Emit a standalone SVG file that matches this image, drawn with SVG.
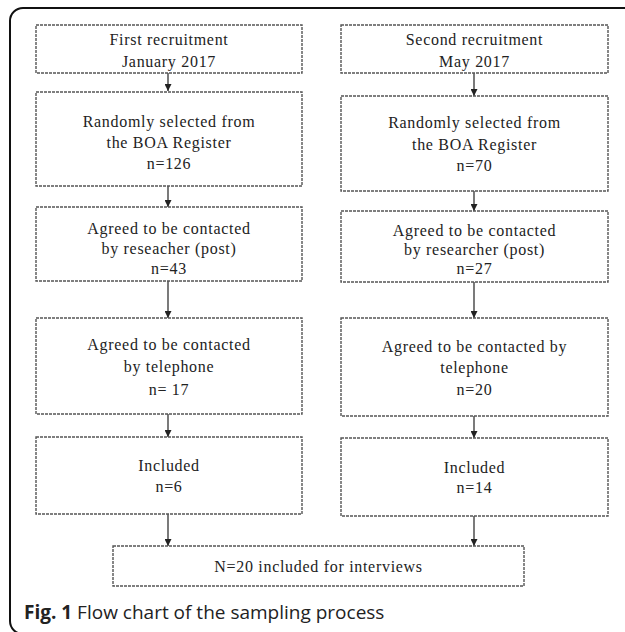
<svg xmlns="http://www.w3.org/2000/svg" width="625" height="632" viewBox="0 0 625 632">
<defs>
<marker id="ah" viewBox="0 0 8 8" refX="8" refY="4" markerWidth="7" markerHeight="7" markerUnits="userSpaceOnUse" orient="auto">
<path d="M0,0 L8,4 L0,8 z" fill="#222"/>
</marker>
<style>
.box{fill:#fff;stroke:#555;stroke-width:1.4;stroke-dasharray:3 1}
.t{font-family:"Liberation Serif","Times New Roman",serif;font-size:16px;fill:#222;text-anchor:middle;letter-spacing:0.7px}
.c{stroke:#333;stroke-width:1.3;fill:none;marker-end:url(#ah)}
.cap{font-family:"Open Sans","Noto Sans",sans-serif;font-size:19px;fill:#222}
</style>
</defs>
<rect x="0" y="0" width="625" height="632" fill="#fff"/>
<rect x="10" y="8" width="660" height="626" rx="13" fill="none" stroke="#111" stroke-width="2"/>

<g id="connectors">
<line class="c" x1="168" y1="73" x2="168" y2="91"/>
<line class="c" x1="168" y1="186" x2="168" y2="207"/>
<line class="c" x1="168" y1="281" x2="168" y2="318"/>
<line class="c" x1="168" y1="414" x2="168" y2="437"/>
<line class="c" x1="168" y1="514" x2="168" y2="546"/>
<line class="c" x1="474" y1="73" x2="474" y2="96"/>
<line class="c" x1="474" y1="191" x2="474" y2="211"/>
<line class="c" x1="474" y1="282" x2="474" y2="318"/>
<line class="c" x1="474" y1="416" x2="474" y2="438"/>
<line class="c" x1="474" y1="516" x2="474" y2="546"/>
</g>

<g id="l1"><rect class="box" x="36" y="25" width="266" height="48"/>
<text class="t" x="169" y="45">First recruitment</text>
<text class="t" x="169" y="67">January 2017</text></g>
<g id="l2"><rect class="box" x="36" y="92" width="266" height="94"/>
<text class="t" x="169" y="127">Randomly selected from</text>
<text class="t" x="169" y="148">the BOA Register</text>
<text class="t" x="169" y="169">n=126</text></g>
<g id="l3"><rect class="box" x="36" y="207" width="266" height="74"/>
<text class="t" x="169" y="234">Agreed to be contacted</text>
<text class="t" x="169" y="254">by reseacher (post)</text>
<text class="t" x="169" y="274">n=43</text></g>
<g id="l4"><rect class="box" x="36" y="318" width="266" height="96"/>
<text class="t" x="169" y="350">Agreed to be contacted</text>
<text class="t" x="169" y="372">by telephone</text>
<text class="t" x="169" y="395">n= 17</text></g>
<g id="l5"><rect class="box" x="36" y="437" width="266" height="77"/>
<text class="t" x="169" y="471">Included</text>
<text class="t" x="169" y="492">n=6</text></g>

<g id="r1"><rect class="box" x="341" y="25" width="267" height="48"/>
<text class="t" x="474.5" y="45">Second recruitment</text>
<text class="t" x="474.5" y="67">May 2017</text></g>
<g id="r2"><rect class="box" x="341" y="96" width="267" height="95"/>
<text class="t" x="474.5" y="128">Randomly selected from</text>
<text class="t" x="474.5" y="150">the BOA Register</text>
<text class="t" x="474.5" y="171">n=70</text></g>
<g id="r3"><rect class="box" x="341" y="211" width="267" height="71"/>
<text class="t" x="474.5" y="236">Agreed to be contacted</text>
<text class="t" x="474.5" y="255">by researcher (post)</text>
<text class="t" x="474.5" y="274">n=27</text></g>
<g id="r4"><rect class="box" x="341" y="318" width="267" height="98"/>
<text class="t" x="474.5" y="352">Agreed to be contacted by</text>
<text class="t" x="474.5" y="373">telephone</text>
<text class="t" x="474.5" y="395">n=20</text></g>
<g id="r5"><rect class="box" x="341" y="438" width="267" height="78"/>
<text class="t" x="474.5" y="473">Included</text>
<text class="t" x="474.5" y="493">n=14</text></g>

<g id="total"><rect class="box" x="113" y="546" width="411" height="40"/>
<text class="t" x="318.5" y="572">N=20 included for interviews</text></g>

<text class="cap" x="24" y="619"><tspan font-weight="bold">Fig. 1</tspan> Flow chart of the sampling process</text>
</svg>
